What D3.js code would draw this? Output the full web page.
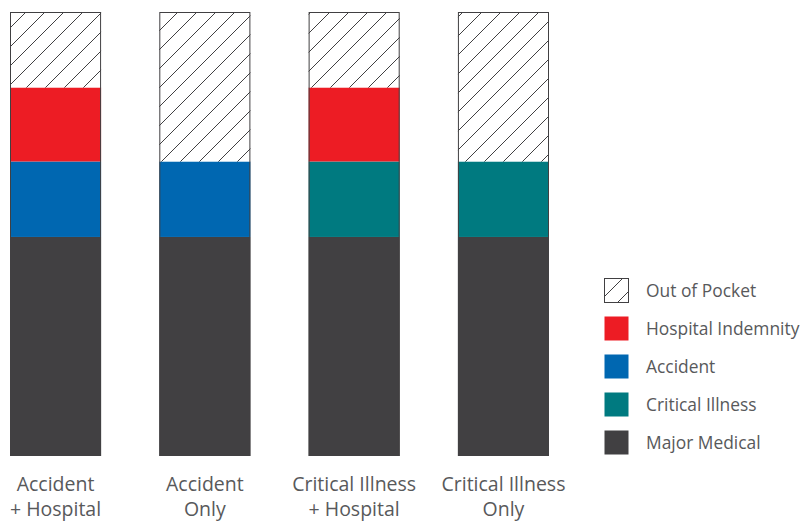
<!DOCTYPE html>
<html>
<head>
<meta charset="utf-8">
<script src="https://d3js.org/d3.v7.min.js"></script>
<style>
  body { margin: 0; background: white; }
  text { font-family: "Open Sans", sans-serif; fill: #58595b; }
</style>
</head>
<body>
<svg id="chart"></svg>
<script>
// data
var categories = [["Accident", "+ Hospital"], ["Accident", "Only"], ["Critical Illness", "+ Hospital"], ["Critical Illness", "Only"]];
var seriesNames = ["Major Medical", "Critical Illness", "Accident", "Hospital Indemnity", "Out of Pocket"];
var majorMedical = [2.96, 2.96, 2.96, 2.96];
var criticalIllness = [0, 0, 1.02, 1.02];
var accident = [1.02, 1.02, 0, 0];
var hospital = [1.0, 0, 1.0, 0];
var outOfPocket = [1.02, 2.02, 1.02, 2.02];
var legendOrder = ["Out of Pocket", "Hospital Indemnity", "Accident", "Critical Illness", "Major Medical"];

var width = 803, height = 522;
var colors = {
  "Major Medical": "#414042",
  "Critical Illness": "#007a80",
  "Accident": "#0067b1",
  "Hospital Indemnity": "#ed1c24",
  "Out of Pocket": "url(#hatch)"
};

var table = categories.map(function(c, i) {
  return {
    key: i,
    "Major Medical": majorMedical[i],
    "Critical Illness": criticalIllness[i],
    "Accident": accident[i],
    "Hospital Indemnity": hospital[i],
    "Out of Pocket": outOfPocket[i]
  };
});

var svg = d3.select("#chart").attr("width", width).attr("height", height);

// hatch pattern
var pat = svg.append("defs").append("pattern")
  .attr("id", "hatch")
  .attr("patternUnits", "userSpaceOnUse")
  .attr("width", 19).attr("height", 19);
pat.append("rect").attr("width", 19).attr("height", 19).attr("fill", "white");
pat.append("path")
  .attr("d", "M-5,5 L5,-5 M0,19 L19,0 M14,24 L24,14")
  .attr("stroke", "#414042").attr("stroke-width", 1);

var x = d3.scaleBand()
  .domain(d3.range(categories.length))
  .range([10, 549])
  .paddingInner(0.39)
  .paddingOuter(0);

var y = d3.scaleLinear().domain([0, 6]).range([456, 12]);

var stack = d3.stack().keys(seriesNames)(table);

var layers = svg.append("g").selectAll("g")
  .data(stack)
  .join("g")
  .attr("fill", function(d) { return colors[d.key]; });

layers.selectAll("rect")
  .data(function(d) { return d.filter(function(s) { return s[1] - s[0] > 0; }); })
  .join("rect")
  .attr("x", function(d) { return x(d.data.key); })
  .attr("width", x.bandwidth())
  .attr("y", function(d) { return y(d[1]); })
  .attr("height", function(d) { return y(d[0]) - y(d[1]); });

// outline
svg.append("g").selectAll("rect")
  .data(table)
  .join("rect")
  .attr("x", function(d) { return x(d.key) + 0.5; })
  .attr("width", x.bandwidth() - 1)
  .attr("y", y(6) + 0.5)
  .attr("height", y(0) - y(6) - 1)
  .attr("fill", "none")
  .attr("stroke", "#414042")
  .attr("stroke-width", 1);

// category labels
var labels = svg.append("g").selectAll("text")
  .data(categories)
  .join("text")
  .attr("text-anchor", "middle")
  .style("font-size", "19.5px")
  .attr("x", function(d, i) { return x(i) + x.bandwidth() / 2; });
labels.selectAll("tspan")
  .data(function(d) { return d; })
  .join("tspan")
  .attr("x", function() { return d3.select(this.parentNode).attr("x"); })
  .attr("y", function(d, j) { return 491 + j * 24.5; })
  .text(function(d) { return d; });

// legend
var legend = svg.append("g").selectAll("g")
  .data(legendOrder)
  .join("g")
  .attr("transform", function(d, i) { return "translate(604," + (278 + i * 38) + ")"; });
legend.append("rect")
  .attr("x", 0.5).attr("y", 0.5)
  .attr("width", 24).attr("height", 24)
  .attr("fill", function(d) { return colors[d]; })
  .attr("stroke", function(d) { return d === "Out of Pocket" ? "#414042" : "none"; });
legend.append("text")
  .attr("x", 42).attr("y", 19)
  .style("font-size", "17.4px")
  .text(function(d) { return d; });
</script>
</body>
</html>
